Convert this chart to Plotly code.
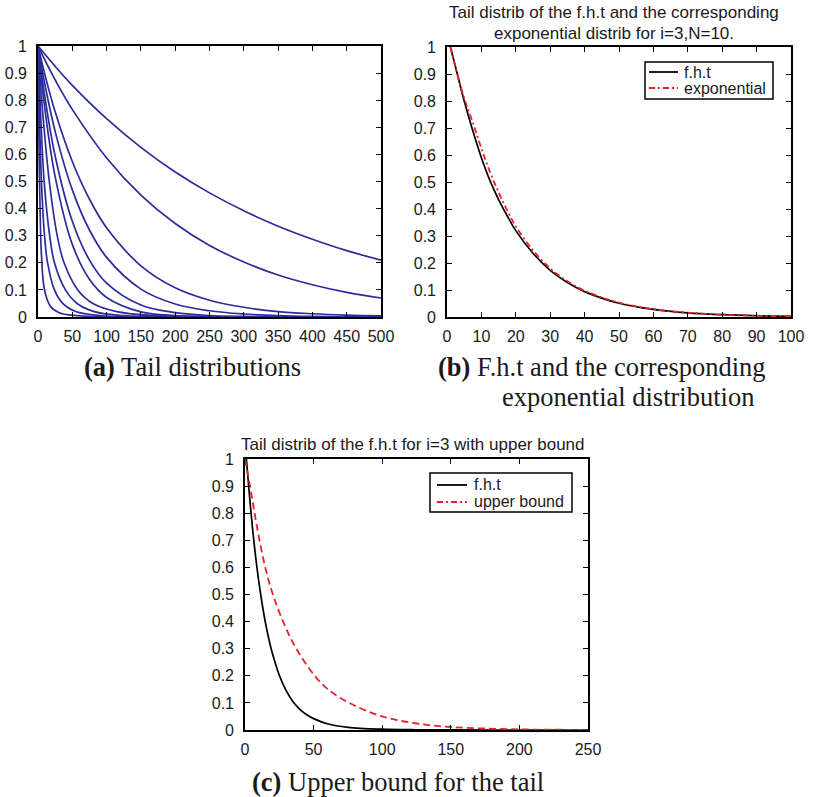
import plotly.graph_objects as go

W, H = 817, 797

# ---------------- Panel (a): tail distributions ----------------
a_x_slow = [0, 25, 50, 100, 150, 200, 250, 300, 350, 400, 450, 500]
a_c1 = [1, 0.925, 0.855, 0.732, 0.626, 0.535, 0.458, 0.392, 0.335, 0.287, 0.245, 0.21]
a_c2 = [1, 0.875, 0.766, 0.587, 0.45, 0.345, 0.264, 0.203, 0.155, 0.119, 0.091, 0.07]
a_x_mid = [0, 10, 25, 50, 75, 100, 150, 200, 250, 300, 350, 400, 450, 500]
a_c3 = [1, 0.895, 0.757, 0.574, 0.435, 0.329, 0.189, 0.108, 0.062, 0.036, 0.02, 0.012, 0.007, 0.004]
a_c4 = [1, 0.859, 0.685, 0.469, 0.321, 0.22, 0.103, 0.048, 0.023, 0.011, 0.005, 0.002, 0.001, 0.001]
a_c5 = [1, 0.812, 0.594, 0.353, 0.21, 0.125, 0.044, 0.016, 0.005, 0.002, 0.001, 0, 0, 0]
a_c6 = [1, 0.769, 0.518, 0.268, 0.139, 0.072, 0.019, 0.005, 0.001, 0, 0, 0, 0, 0]
a_x7 = [0, 3, 8, 16.5, 28, 38, 58, 80, 115, 170, 250, 500]
a_c7 = [1, 0.88, 0.72, 0.5, 0.3, 0.2, 0.1, 0.05, 0.02, 0.005, 0.001, 0]
a_x8 = [0, 2, 5, 9, 17, 24, 40, 57, 82, 125, 200, 500]
a_c8 = [1, 0.86, 0.68, 0.5, 0.3, 0.2, 0.1, 0.05, 0.02, 0.005, 0.0005, 0]
a_x9 = [0, 1, 2.5, 5, 9.5, 14, 24, 36, 55, 90, 150, 500]
a_c9 = [1, 0.87, 0.7, 0.5, 0.3, 0.2, 0.1, 0.05, 0.02, 0.005, 0.0005, 0]
a_x10 = [0, 0.5, 1, 2, 3, 5, 9.5, 18, 31, 49, 90, 500]
a_c10 = [1, 0.85, 0.73, 0.54, 0.4, 0.23, 0.1, 0.04, 0.016, 0.007, 0.001, 0]

# ---------------- Panel (b): f.h.t vs exponential ----------------
b_x = [1, 3, 5, 7.5, 10, 12.5, 15, 17.5, 20, 25, 30, 35, 40, 50, 60, 70, 80, 90, 100]
b_fht = [1, 0.90, 0.80, 0.69, 0.59, 0.505, 0.435, 0.375, 0.32, 0.236, 0.173, 0.128, 0.094,
         0.051, 0.028, 0.015, 0.0085, 0.0046, 0.0025]
b_exp = [1, 0.90, 0.81, 0.72, 0.625, 0.537, 0.462, 0.395, 0.336, 0.247, 0.18, 0.132, 0.097,
         0.053, 0.029, 0.016, 0.0088, 0.0048, 0.0026]

# ---------------- Panel (c): f.h.t with upper bound ----------------
c_x_fht = [1, 3, 5, 7.5, 10, 12.5, 15, 17.5, 20, 25, 30, 35, 40, 45, 50, 60, 75, 100, 125,
           150, 200, 250]
c_fht = [1, 0.88, 0.77, 0.65, 0.55, 0.465, 0.393, 0.333, 0.282, 0.202, 0.145, 0.104, 0.076,
         0.056, 0.042, 0.023, 0.01, 0.003, 0.0009, 0.0003, 0, 0]
c_x_ub = [0, 4, 7, 10, 14.3, 20, 28.2, 37.4, 50.8, 60.5, 76, 100, 125, 150, 200, 250]
c_ub = [1, 0.89, 0.8, 0.715, 0.61, 0.505, 0.395, 0.3, 0.2, 0.15, 0.1, 0.05, 0.024, 0.011,
        0.0025, 0.0006]

y_ticks = [0, 0.1, 0.2, 0.3, 0.4, 0.5, 0.6, 0.7, 0.8, 0.9, 1]
y_ticklabels = ["0", "0.1", "0.2", "0.3", "0.4", "0.5", "0.6", "0.7", "0.8", "0.9", "1"]
a_xticks = [0, 50, 100, 150, 200, 250, 300, 350, 400, 450, 500]
b_xticks = [0, 10, 20, 30, 40, 50, 60, 70, 80, 90, 100]
c_xticks = [0, 50, 100, 150, 200, 250]

title_b = ["Tail distrib of the f.h.t and the corresponding",
           "exponential distrib for i=3,N=10."]
title_c = "Tail distrib of the f.h.t for i=3 with upper bound"
legend_b = ["f.h.t", "exponential"]
legend_c = ["f.h.t", "upper bound"]

BLUE = "#2b2c9c"
RED = "#e8222a"
SANS = "Liberation Sans, Arial, sans-serif"
SERIF = "Liberation Serif, Times New Roman, serif"
DASHDOT = "6px,3px,2px,3px"


def px(x):
    return x / W


def py(y):
    return 1 - y / H


fig = go.Figure()

a_series = [(a_x_slow, a_c1), (a_x_slow, a_c2), (a_x_mid, a_c3), (a_x_mid, a_c4),
            (a_x_mid, a_c5), (a_x_mid, a_c6), (a_x7, a_c7), (a_x8, a_c8),
            (a_x9, a_c9), (a_x10, a_c10)]
for xs, ys in a_series:
    fig.add_trace(go.Scatter(x=xs, y=ys, mode="lines", xaxis="x", yaxis="y",
                             line=dict(color=BLUE, width=1.7, shape="spline", smoothing=1),
                             showlegend=False, hoverinfo="skip"))

fig.add_trace(go.Scatter(x=b_x, y=b_fht, mode="lines", xaxis="x2", yaxis="y2",
                         line=dict(color="black", width=1.7, shape="spline"),
                         showlegend=False))
fig.add_trace(go.Scatter(x=b_x, y=b_exp, mode="lines", xaxis="x2", yaxis="y2",
                         line=dict(color=RED, width=1.8, dash=DASHDOT, shape="spline"),
                         showlegend=False))
fig.add_trace(go.Scatter(x=c_x_fht, y=c_fht, mode="lines", xaxis="x3", yaxis="y3",
                         line=dict(color="black", width=1.7, shape="spline"),
                         showlegend=False))
fig.add_trace(go.Scatter(x=c_x_ub, y=c_ub, mode="lines", xaxis="x3", yaxis="y3",
                         line=dict(color=RED, width=1.8, dash="7px,4px", shape="spline"),
                         showlegend=False))


def xax(dom, rng, ticks, anchor):
    return dict(domain=dom, range=rng, tickvals=ticks, ticktext=[str(t) for t in ticks],
                anchor=anchor, showline=True, linecolor="black", linewidth=1.6,
                mirror="ticks", ticks="inside", ticklen=5, tickwidth=1, tickcolor="black",
                showgrid=False, zeroline=False, ticklabelstandoff=4, automargin=False,
                tickfont=dict(family=SANS, size=16, color="#1a1a1a"), fixedrange=True)


def yax(dom, anchor):
    return dict(domain=dom, range=[0, 1], tickvals=y_ticks, ticktext=y_ticklabels,
                anchor=anchor, showline=True, linecolor="black", linewidth=1.6,
                mirror="ticks", ticks="inside", ticklen=5, tickwidth=1, tickcolor="black",
                showgrid=False, zeroline=False, ticklabelstandoff=6, automargin=False,
                tickfont=dict(family=SANS, size=16, color="#1a1a1a"), fixedrange=True)


# pixel boxes of the three plot areas
A = (38, 381, 46, 317)
B = (447, 791, 47, 317)
C = (245, 588, 459, 730)

fig.update_layout(
    width=W, height=H, margin=dict(l=0, r=0, t=0, b=0, autoexpand=False),
    paper_bgcolor="white", plot_bgcolor="white", showlegend=False,
    xaxis=xax([px(A[0]), px(A[1])], [0, 500], a_xticks, "y"),
    yaxis=yax([py(A[3]), py(A[2])], "x"),
    xaxis2=xax([px(B[0]), px(B[1])], [0, 100], b_xticks, "y2"),
    yaxis2=yax([py(B[3]), py(B[2])], "x2"),
    xaxis3=xax([px(C[0]), px(C[1])], [0, 250], c_xticks, "y3"),
    yaxis3=yax([py(C[3]), py(C[2])], "x3"),
)

ann = []
# titles
TT = 17
ann.append(dict(text=title_b[0], x=px(614), y=py(12), xanchor="center", yanchor="middle",
                font=dict(family=SANS, size=TT, color="#1a1a1a")))
ann.append(dict(text=title_b[1], x=px(614), y=py(33), xanchor="center", yanchor="middle",
                font=dict(family=SANS, size=TT, color="#1a1a1a")))
ann.append(dict(text=title_c, x=px(413), y=py(444), xanchor="center", yanchor="middle",
                font=dict(family=SANS, size=TT, color="#1a1a1a")))

# captions
CAP = 26.5
ann.append(dict(text="<b>(a)</b> Tail distributions", x=px(192), y=py(367),
                xanchor="center", yanchor="middle",
                font=dict(family=SERIF, size=CAP, color="#1a1a1a")))
ann.append(dict(text="<b>(b)</b> F.h.t and the corresponding", x=px(436), y=py(367),
                xanchor="left", yanchor="middle",
                font=dict(family=SERIF, size=CAP, color="#1a1a1a")))
ann.append(dict(text="exponential distribution", x=px(628), y=py(397),
                xanchor="center", yanchor="middle",
                font=dict(family=SERIF, size=CAP, color="#1a1a1a")))
ann.append(dict(text="<b>(c)</b> Upper bound for the tail", x=px(398), y=py(782),
                xanchor="center", yanchor="middle",
                font=dict(family=SERIF, size=CAP, color="#1a1a1a")))

shapes = []


def legend(box, rows, labels, dashes, colors, line_x, text_x):
    shapes.append(dict(type="rect", xref="paper", yref="paper",
                       x0=px(box[0]), x1=px(box[1]), y0=py(box[3]), y1=py(box[2]),
                       line=dict(color="black", width=1.5), fillcolor="white", layer="above"))
    for r, lab, d, c in zip(rows, labels, dashes, colors):
        shapes.append(dict(type="line", xref="paper", yref="paper",
                           x0=px(line_x[0]), x1=px(line_x[1]), y0=py(r), y1=py(r),
                           line=dict(color=c, width=1.8, dash=d), layer="above"))
        ann.append(dict(text=lab, x=px(text_x), y=py(r), xanchor="left", yanchor="middle",
                        font=dict(family=SANS, size=16, color="#1a1a1a")))


legend((645, 773, 62, 99), [72, 88], legend_b, ["solid", DASHDOT], ["black", RED],
       (649, 678), 682)
legend((430, 572, 473, 512), [485, 502], legend_c, ["solid", DASHDOT], ["black", RED],
       (437, 467), 472)

for a in ann:
    a.update(xref="paper", yref="paper", showarrow=False)
fig.update_layout(annotations=ann, shapes=shapes)

fig.write_html("out.html", config={"displayModeBar": False},
               post_script="document.body.style.margin='0';"
                           "document.body.style.overflow='hidden';")
